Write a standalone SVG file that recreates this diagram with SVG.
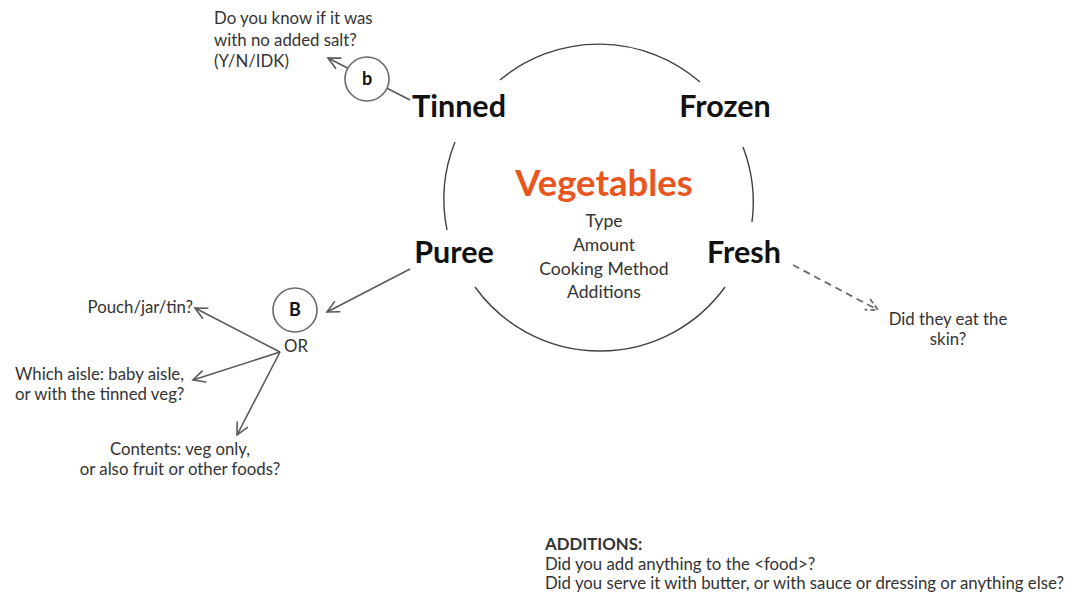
<svg xmlns="http://www.w3.org/2000/svg" width="1077" height="602" viewBox="0 0 1077 602">
<defs>
<style>
.bg{fill:#ffffff}
.ring{fill:none;stroke:#404040;stroke-width:1.4}
.cat{font-family:Lato,"Liberation Sans",sans-serif;font-weight:bold;font-size:30.5px;fill:#111}
.title{font-family:Lato,"Liberation Sans",sans-serif;font-weight:bold;font-size:36.5px;fill:#E8561F}
.mid{font-family:Lato,"Liberation Sans",sans-serif;font-size:17.6px;fill:#333}
.txt{font-family:Lato,"Liberation Sans",sans-serif;font-size:16.8px;fill:#333}
.bold{font-family:Lato,"Liberation Sans",sans-serif;font-weight:bold;font-size:18px;fill:#111}
.badge{fill:#fff;stroke:#6a6a6a;stroke-width:1.6}
.conn{fill:none;stroke:#5a5a5a;stroke-width:1.6}
.dash{fill:none;stroke:#6a6a6a;stroke-width:1.8;stroke-dasharray:7 5}
</style>
<marker id="arr" markerUnits="userSpaceOnUse" markerWidth="16" markerHeight="16" refX="13" refY="7" orient="auto">
<path d="M1,1 L13,7 L1,13" fill="none" stroke="#5a5a5a" stroke-width="1.6"/>
</marker>
<marker id="arrd" markerUnits="userSpaceOnUse" markerWidth="16" markerHeight="16" refX="13" refY="7" orient="auto">
<path d="M1,1 L13,7 L1,13" fill="none" stroke="#6a6a6a" stroke-width="1.8" stroke-dasharray="5 3"/>
</marker>
</defs>
<rect class="bg" x="0" y="0" width="1077" height="602"/>

<g id="ring">
<path class="ring" d="M500,80 A154,154 0 0 1 700,82"/>
<path class="ring" d="M455,142 A154,154 0 0 0 447,230"/>
<path class="ring" d="M743,147 A154,154 0 0 1 752,222"/>
<path class="ring" d="M475,287 A154,154 0 0 0 725,287"/>
</g>

<g id="connectors">
<line class="conn" x1="410" y1="100" x2="328" y2="58" marker-end="url(#arr)"/>
<line class="conn" x1="410" y1="269" x2="327" y2="312" marker-end="url(#arr)"/>
<line class="conn" x1="280" y1="352" x2="195" y2="308" marker-end="url(#arr)"/>
<line class="conn" x1="280" y1="352" x2="193" y2="380" marker-end="url(#arr)"/>
<line class="conn" x1="280" y1="352" x2="237" y2="435" marker-end="url(#arr)"/>
<line class="dash" x1="793" y1="265" x2="878" y2="310" marker-end="url(#arrd)"/>
</g>

<g id="center">
<text class="title" x="604" y="196" text-anchor="middle">Vegetables</text>
<text class="mid" x="604" y="227" text-anchor="middle">Type</text>
<text class="mid" x="604" y="251" text-anchor="middle">Amount</text>
<text class="mid" x="604" y="275" text-anchor="middle">Cooking Method</text>
<text class="mid" x="604" y="298" text-anchor="middle">Additions</text>
</g>

<g id="tinned"><text class="cat" x="459" y="117" text-anchor="middle">Tinned</text></g>
<g id="frozen"><text class="cat" x="725" y="117" text-anchor="middle">Frozen</text></g>
<g id="puree"><text class="cat" x="454" y="263" text-anchor="middle">Puree</text></g>
<g id="fresh"><text class="cat" x="744" y="263" text-anchor="middle">Fresh</text></g>

<g id="badge-b">
<circle class="badge" cx="367" cy="79" r="22"/>
<text class="bold" x="367" y="85" text-anchor="middle">b</text>
</g>
<g id="badge-B">
<circle class="badge" cx="295" cy="310" r="22"/>
<text class="bold" x="295" y="316" text-anchor="middle">B</text>
<text class="txt" x="296" y="352" text-anchor="middle">OR</text>
</g>

<g id="salt-question">
<text class="txt" x="214" y="24">Do you know if it was</text>
<text class="txt" x="214" y="46">with no added salt?</text>
<text class="txt" x="214" y="67">(Y/N/IDK)</text>
</g>

<g id="pouch"><text class="txt" x="193" y="313" text-anchor="end">Pouch/jar/tin?</text></g>
<g id="aisle">
<text class="txt" x="15" y="380">Which aisle: baby aisle,</text>
<text class="txt" x="15" y="400">or with the tinned veg?</text>
</g>
<g id="contents">
<text class="txt" x="180" y="455" text-anchor="middle">Contents: veg only,</text>
<text class="txt" x="180" y="475" text-anchor="middle">or also fruit or other foods?</text>
</g>

<g id="skin">
<text class="txt" x="948" y="325" text-anchor="middle">Did they eat the</text>
<text class="txt" x="948" y="345" text-anchor="middle">skin?</text>
</g>

<g id="additions">
<text class="txt" x="545" y="550" font-weight="bold" fill="#111">ADDITIONS:</text>
<text class="txt" x="545" y="570">Did you add anything to the &lt;food&gt;?</text>
<text class="txt" x="545" y="589">Did you serve it with butter, or with sauce or  dressing or anything else?</text>
</g>
</svg>
